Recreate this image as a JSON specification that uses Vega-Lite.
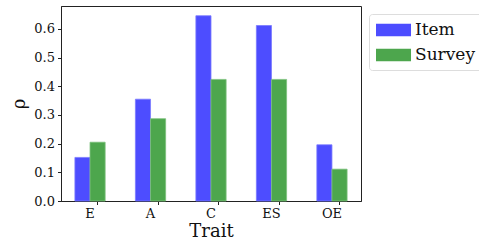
{
  "$schema": "https://vega.github.io/schema/vega-lite/v6.json",
  "width": 300,
  "height": 195,
  "autosize": {"type": "none"},
  "padding": {"left": 61, "top": 6, "right": 118, "bottom": 43},
  "background": "white",
  "config": {
    "font": "DejaVu Serif",
    "view": {"stroke": "#222", "strokeWidth": 1},
    "axis": {
      "labelFont": "DejaVu Serif",
      "titleFont": "DejaVu Serif",
      "labelColor": "#111",
      "titleColor": "#111",
      "tickColor": "#222",
      "domainColor": "#222",
      "grid": false,
      "tickSize": 3.5,
      "labelFontSize": 13,
      "titleFontSize": 18,
      "titleFontWeight": "normal"
    },
    "legend": {"labelFont": "DejaVu Serif"}
  },
  "data": {
    "values": [
      {"Trait": "E", "Source": "Item", "rho": 0.152},
      {"Trait": "E", "Source": "Survey", "rho": 0.205},
      {"Trait": "A", "Source": "Item", "rho": 0.355},
      {"Trait": "A", "Source": "Survey", "rho": 0.287},
      {"Trait": "C", "Source": "Item", "rho": 0.646},
      {"Trait": "C", "Source": "Survey", "rho": 0.424},
      {"Trait": "ES", "Source": "Item", "rho": 0.612},
      {"Trait": "ES", "Source": "Survey", "rho": 0.424},
      {"Trait": "OE", "Source": "Item", "rho": 0.196},
      {"Trait": "OE", "Source": "Survey", "rho": 0.111}
    ]
  },
  "mark": {"type": "bar", "strokeWidth": 0.8},
  "encoding": {
    "x": {
      "field": "Trait",
      "type": "nominal",
      "sort": ["E", "A", "C", "ES", "OE"],
      "scale": {"paddingInner": 0.5, "paddingOuter": 0.23},
      "axis": {"title": "Trait", "labelAngle": 0, "bandPosition": 0.75, "labelPadding": 3, "titlePadding": 2}
    },
    "xOffset": {"field": "Source", "type": "nominal", "sort": ["Item", "Survey"], "scale": {"paddingInner": 0, "paddingOuter": 0}},
    "y": {
      "field": "rho",
      "type": "quantitative",
      "scale": {"domain": [0, 0.68], "nice": false},
      "axis": {"title": "ρ", "values": [0, 0.1, 0.2, 0.3, 0.4, 0.5, 0.6], "format": ".1f", "labelPadding": 3, "titlePadding": 5}
    },
    "color": {
      "field": "Source",
      "type": "nominal",
      "scale": {"domain": ["Item", "Survey"], "range": ["#4D4DFF", "#4DA64D"]},
      "legend": {
        "title": null,
        "orient": "none",
        "legendX": 308,
        "legendY": 8,
        "symbolType": "M-1,-0.69H2.89V0.69H-1Z",
        "symbolSize": 324,
        "symbolStrokeWidth": 0,
        "labelFont": "DejaVu Serif",
        "labelFontSize": 17,
        "labelColor": "#111",
        "rowPadding": 8,
        "labelOffset": 21,
        "padding": 7,
        "strokeColor": "#ddd",
        "fillColor": "white",
        "cornerRadius": 3
      }
    },
    "stroke": {
      "field": "Source",
      "type": "nominal",
      "scale": {"domain": ["Item", "Survey"], "range": ["#7a7aff", "#7cc07c"]},
      "legend": null
    }
  }
}
